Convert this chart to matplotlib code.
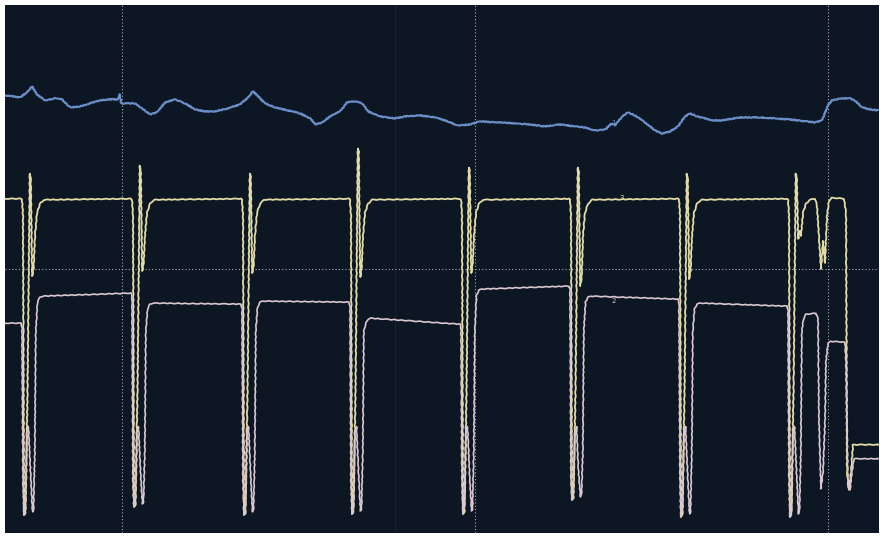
import matplotlib
matplotlib.use("Agg")
import matplotlib.pyplot as plt

# Trace 1 (bleue)
blue_x = [5, 20, 27, 32, 37, 45, 55, 62, 70, 80,
          90, 100, 110, 118, 120, 121, 125, 135, 142, 150,
          157, 165, 175, 185, 195, 205, 215, 228, 240, 247,
          253, 258, 265, 275, 288, 300, 310, 316, 322, 330,
          340, 347, 355, 362, 368, 380, 395, 405, 420, 435,
          445, 458, 470, 480, 500, 515, 530, 545, 560, 575,
          585, 595, 605, 612, 615, 622, 628, 635, 645, 655,
          662, 670, 678, 685, 690, 697, 705, 712, 722, 740,
          760, 790, 815, 822, 828, 832, 842, 850, 856, 862,
          870, 878]
blue_y = [95, 97, 92, 86, 94, 100, 98, 99, 107, 106,
          103, 100, 99, 99, 94, 103, 103, 103, 108, 114,
          112, 102, 99, 103, 109, 111, 111, 108, 104, 98,
          91, 96, 103, 107, 110, 113, 118, 124, 122, 116,
          111, 102, 101, 103, 111, 116, 118, 116, 115, 117,
          120, 125, 124, 121, 122, 123, 124, 126, 124, 126,
          127, 130, 129, 123, 125, 116, 112, 115, 122, 130,
          133, 131, 126, 116, 113, 116, 118, 120, 120, 117,
          117, 119, 122, 120, 105, 100, 98, 98, 101, 107,
          109, 110]

# Traces 3 (jaune) et 2 (rose) : un complexe par battement
beat_x     = [31, 141, 251, 359, 470, 579, 688, 797]
yel_top    = [173, 165, 173, 148, 167, 167, 173, 173]
yel_notch  = [275, 270, 272, 276, 272, 285, 278, 238]
beat_depth = [513, 505, 513, 512, 512, 498, 515, 515]
yel_base   = 198

pink_before = 322
pink_start  = [295, 302, 300, 317, 288, 295, 302, 312]
pink_end    = [292, 303, 301, 323, 285, 298, 305, 312]

# Fin de l'enregistrement (apres le dernier battement)
yel_tail_x  = [815, 817, 819, 821, 823, 825, 827, 829, 832, 844, 846, 847, 849, 851, 853, 878]
yel_tail_y  = [198, 205, 236, 268, 240, 262, 215, 200, 197, 198, 212, 470, 488, 470, 443, 443]
pink_tail_x = [816, 818, 819, 821, 823, 825, 826, 828, 831, 845, 846, 848, 850, 852, 854, 878]
pink_tail_y = [312, 318, 420, 487, 470, 420, 360, 342, 340, 341, 360, 486, 488, 470, 457, 457]

# Reperes de l'ecran
grid_x = [122, 475, 828]
grid_y = [268]
faint_x = [395]


def yellow_complex(c, top, notch, depth):
    xs = [c - 10, c - 9, c - 8, c - 7, c - 5.5, c - 3.5, c - 1.2, c - 0.3,
          c + 1.2, c + 2.6, c + 4, c + 6, c + 9, c + 13]
    ys = [yel_base, yel_base + 1, 215, depth, depth - 2, 390, top, top + 3,
          notch, notch - 8, 235, 212, 203, yel_base + 1]
    return xs, ys


def pink_complex(c, prev, nxt, depth):
    xs = [c - 10, c - 9, c - 8, c - 7, c - 5.5, c - 4, c - 2.5, c - 0.5,
          c + 1.5, c + 2.5, c + 3.8, c + 4.8, c + 6.5, c + 9]
    ys = [prev, prev + 4, 480, depth, depth - 10, 430, 425, 470,
          depth - 3, depth - 5, 450, 330, nxt + 6, nxt + 1]
    return xs, ys


# Construction des traces jaune et rose
yx, yy = [5], [yel_base]
px, py = [5], [pink_before]
for i, c in enumerate(beat_x):
    xs, ys = yellow_complex(c, yel_top[i], yel_notch[i], beat_depth[i])
    yx += xs
    yy += ys
    prev = pink_before if i == 0 else pink_end[i - 1]
    xs, ys = pink_complex(c, prev, pink_start[i], beat_depth[i])
    px += xs
    py += ys
    if i + 1 < len(beat_x):
        nxt = beat_x[i + 1]
        px += [c + 12, nxt - 11]
        py += [pink_start[i], pink_end[i]]
        yx += [nxt - 11]
        yy += [yel_base]
yx += yel_tail_x
yy += yel_tail_y
px += pink_tail_x
py += pink_tail_y


# -- Figure ------------------------------------------------------------------
BG = "#0d1724"
fig = plt.figure(figsize=(8.8, 5.36), dpi=100, facecolor="white")
ax = fig.add_axes([5 / 880, 3 / 536, 874 / 880, 528 / 536])
ax.set_facecolor(BG)
ax.set_xlim(5, 879)
ax.set_ylim(531, 5)
ax.set_xticks([])
ax.set_yticks([])
for s in ax.spines.values():
    s.set_visible(False)

for gx in faint_x:
    ax.axvline(gx, color="#15252f", lw=0.8, zorder=1)
for gx in grid_x:
    ax.axvline(gx, color="#a3acb5", lw=0.8, ls=(0, (1, 2)), zorder=1)
for gy in grid_y:
    ax.axhline(gy, color="#a3acb5", lw=0.8, ls=(0, (1, 2)), zorder=1)

l_blue, = ax.plot(blue_x, blue_y, color="#6a8ec8", lw=1.5, zorder=3)
l_blue.set_sketch_params(scale=0.5, length=3, randomness=2)

l_yel, = ax.plot(yx, yy, color="#e2dba6", lw=1.3, zorder=4)
l_yel.set_sketch_params(scale=0.3, length=8, randomness=2)

l_pink, = ax.plot(px, py, color="#dbc7cf", lw=1.2, zorder=5)
l_pink.set_sketch_params(scale=0.3, length=8, randomness=2)

# numeros de voies
ax.text(613, 123, "1", color="#6a8ec8", fontsize=5, ha="center", va="center", zorder=6)
ax.text(622, 197, "3", color="#e2dba6", fontsize=5, ha="center", va="center", zorder=6)
ax.text(614, 300, "2", color="#dbc7cf", fontsize=5, ha="center", va="center", zorder=6)

fig.savefig("out.png", dpi=100, facecolor="white")
